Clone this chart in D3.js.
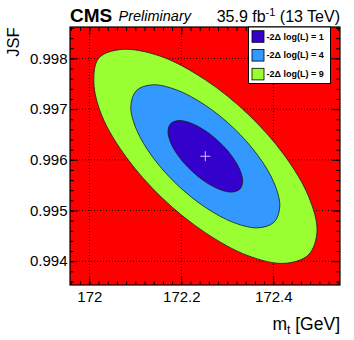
<!DOCTYPE html>
<html><head><meta charset="utf-8">
<script src="https://cdn.jsdelivr.net/npm/d3@7"></script>
<style>
html,body{margin:0;padding:0;background:#fff;}
svg{display:block;font-family:"Liberation Sans",Arial,Helvetica,sans-serif;}
</style></head>
<body>
<svg id="chart" width="354" height="340"></svg>
<script>
// ---- data ----
const mtTicks = [172, 172.2, 172.4];
const mtTickLabels = ["172", "172.2", "172.4"];
const jsfTicks = [0.994, 0.995, 0.996, 0.997, 0.998];
const jsfTickLabels = ["0.994", "0.995", "0.996", "0.997", "0.998"];
const legendLabels = ["-2\u0394 log(L) = 1", "-2\u0394 log(L) = 4", "-2\u0394 log(L) = 9"];
const bestFit = [172.2522, 0.99607];

// contour -2 Δ log(L) = 1
const contour1 = [
  [172.3333,0.995574],[172.3272,0.995421],[172.3096,0.995363],[172.2833,0.995415],
  [172.2522,0.995565],[172.2211,0.995793],[172.1948,0.996061],[172.1772,0.996333],
  [172.1711,0.996564],[172.1772,0.996717],[172.1948,0.996774],[172.2211,0.996723],
  [172.2522,0.996573],[172.2833,0.996345],[172.3096,0.996077],[172.3272,0.995805]
];
// contour -2 Δ log(L) = 4
const contour4 = [
  [172.4141,0.995082],[172.4017,0.994770],[172.3667,0.994658],[172.3141,0.994761],
  [172.2522,0.995062],[172.1902,0.995515],[172.1376,0.996055],[172.1026,0.996595],
  [172.0902,0.997056],[172.1026,0.997367],[172.1376,0.997480],[172.1902,0.997377],
  [172.2522,0.997076],[172.3141,0.996623],[172.3667,0.996083],[172.4017,0.995543]
];
// contour -2 Δ log(L) = 9
const contour9 = [
  [172.4950,0.994591],[172.4765,0.994126],[172.4239,0.993957],[172.3452,0.994108],
  [172.2522,0.994562],[172.1591,0.995241],[172.0804,0.996049],[172.0278,0.996859],
  [172.0098,0.997533],[172.0207,0.998006],[172.0696,0.998177],[172.1543,0.998045],
  [172.2522,0.997578],[172.3452,0.996899],[172.4239,0.996091],[172.4765,0.995281]
];

// ---- styles ----
const COL_BG = "#ff0000";
const COL_1 = "#3300cc";
const COL_4 = "#3399ff";
const COL_9 = "#99ff33";

const svg = d3.select("#chart");
const L = 70, R = 340, T = 27, B = 285;
const x = d3.scaleLinear().domain([171.958, 172.545]).range([L, R]);
const y = d3.scaleLinear().domain([0.99353, 0.99862]).range([B, T]);

// background
svg.append("rect").attr("x", L).attr("y", T).attr("width", R - L).attr("height", B - T).attr("fill", COL_BG);

// grid
const grid = svg.append("g").attr("stroke", "#000").attr("stroke-width", 0.9).attr("stroke-dasharray", "1,2");
mtTicks.forEach(v => grid.append("line").attr("x1", x(v)).attr("x2", x(v)).attr("y1", T).attr("y2", B));
jsfTicks.forEach(v => grid.append("line").attr("y1", y(v)).attr("y2", y(v)).attr("x1", L).attr("x2", R));

// contours
const line = d3.line().x(d => x(d[0])).y(d => y(d[1])).curve(d3.curveCatmullRomClosed.alpha(0.5));
[[contour9, COL_9], [contour4, COL_4], [contour1, COL_1]].forEach(([c, col]) => {
  svg.append("path").attr("d", line(c)).attr("fill", col).attr("stroke", "#1a1a1a").attr("stroke-width", 0.8);
});

// best fit marker
const cx = x(bestFit[0]), cy = y(bestFit[1]);
svg.append("path").attr("d", `M${cx-5},${cy}H${cx+5}M${cx},${cy-5}V${cy+5}`)
  .attr("stroke", "#cfc6ff").attr("stroke-width", 1).attr("fill", "none");

// axes (ticks inside)
const fs = 15;
const mtMinor = d3.range(171.96, 172.545, 0.02).map(v => +v.toFixed(3));
const jsfMinor = d3.range(0.9936, 0.99862, 0.0002).map(v => +v.toFixed(5));
function styleAxis(g) {
  g.select(".domain").remove();
  g.selectAll(".tick line").attr("stroke", "#000").attr("stroke-width", 1);
  g.selectAll("text").attr("font-size", fs).attr("fill", "#000")
    .attr("font-family", '"Liberation Sans",Arial,Helvetica,sans-serif');
}
svg.append("g").attr("transform", `translate(0,${B})`)
  .call(d3.axisBottom(x).tickValues(mtMinor).tickSize(-4).tickFormat("")).call(styleAxis);
svg.append("g").attr("transform", `translate(0,${B})`)
  .call(d3.axisBottom(x).tickValues(mtTicks).tickSize(-8).tickPadding(6.5).tickFormat((d, i) => mtTickLabels[i])).call(styleAxis);
svg.append("g").attr("transform", `translate(0,${T})`)
  .call(d3.axisTop(x).tickValues(mtMinor).tickSize(-4).tickFormat("")).call(styleAxis);
svg.append("g").attr("transform", `translate(0,${T})`)
  .call(d3.axisTop(x).tickValues(mtTicks).tickSize(-8).tickFormat("")).call(styleAxis);
svg.append("g").attr("transform", `translate(${L},0)`)
  .call(d3.axisLeft(y).tickValues(jsfMinor).tickSize(-4).tickFormat("")).call(styleAxis);
svg.append("g").attr("transform", `translate(${L},0)`)
  .call(d3.axisLeft(y).tickValues(jsfTicks).tickSize(-8).tickPadding(2.5).tickFormat((d, i) => jsfTickLabels[i])).call(styleAxis);
svg.append("g").attr("transform", `translate(${R},0)`)
  .call(d3.axisRight(y).tickValues(jsfMinor).tickSize(-4).tickFormat("")).call(styleAxis);
svg.append("g").attr("transform", `translate(${R},0)`)
  .call(d3.axisRight(y).tickValues(jsfTicks).tickSize(-8).tickFormat("")).call(styleAxis);

// frame
svg.append("rect").attr("x", L).attr("y", T).attr("width", R - L).attr("height", B - T)
  .attr("fill", "none").attr("stroke", "#000").attr("stroke-width", 1.2);

// legend
const lg = svg.append("g");
lg.append("rect").attr("x", 248.5).attr("y", T).attr("width", 82).attr("height", 56.5)
  .attr("fill", "#fff").attr("stroke", "#000").attr("stroke-width", 1);
const legCols = [COL_1, COL_4, COL_9];
legendLabels.forEach((t, i) => {
  const yc = 36.5 + i * 18.8;
  lg.append("rect").attr("x", 252).attr("y", yc - 5.8).attr("width", 12).attr("height", 11.6)
    .attr("fill", legCols[i]).attr("stroke", "#000").attr("stroke-width", 0.8);
  lg.append("text").attr("x", 266.5).attr("y", yc).attr("dy", "0.35em")
    .attr("font-size", 9).attr("font-weight", "bold").text(t);
});

// titles
svg.append("text").attr("x", 70).attr("y", 21.7).attr("font-size", 19).attr("font-weight", "bold").text("CMS");
svg.append("text").attr("x", 118.5).attr("y", 21).attr("font-size", 14.5).attr("font-style", "italic").text("Preliminary");
const lumi = svg.append("text").attr("x", 340).attr("y", 21.7).attr("font-size", 16).attr("text-anchor", "end");
lumi.append("tspan").text("35.9 fb");
lumi.append("tspan").attr("font-size", 11).attr("dy", -6).text("-1");
lumi.append("tspan").attr("dy", 6).text(" (13 TeV)");

svg.append("text").attr("transform", "translate(19,27.5) rotate(-90)").attr("text-anchor", "end")
  .attr("font-size", 16.5).text("JSF");

const xt = svg.append("text").attr("x", 340).attr("y", 330).attr("text-anchor", "end").attr("font-size", 17.5);
xt.append("tspan").text("m");
xt.append("tspan").attr("font-size", 12).attr("dy", 3.5).text("t");
xt.append("tspan").attr("dy", -3.5).text(" [GeV]");
</script>
</body></html>
